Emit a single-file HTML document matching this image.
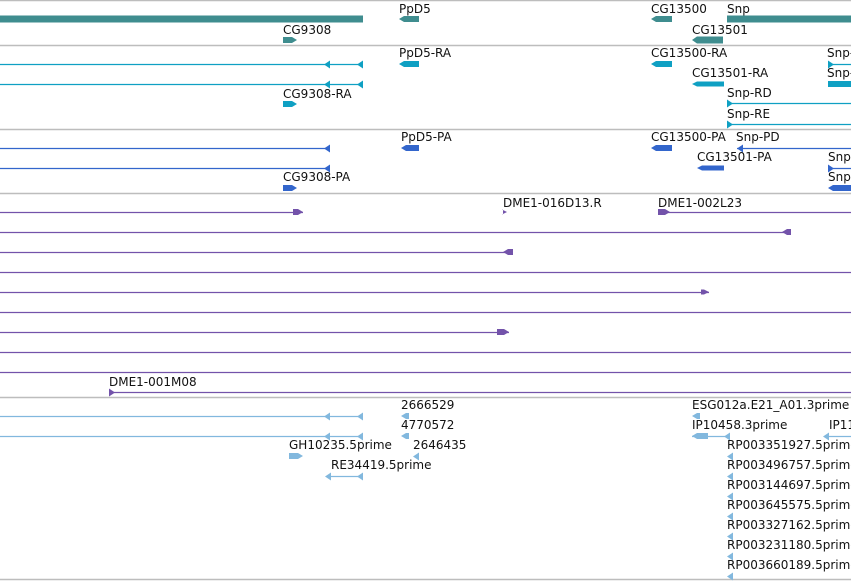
<!DOCTYPE html>
<html><head><meta charset="utf-8"><style>
html,body{margin:0;padding:0;background:#fff;width:851px;height:581px;overflow:hidden}
svg text{font-family:"DejaVu Sans","Liberation Sans",sans-serif;font-size:12px;fill:#111}
</style></head><body>
<svg id="c" width="851" height="581" xmlns="http://www.w3.org/2000/svg"></svg>
<script>
const separators=[0.5,45.5,129.5,193.5,397.5,579.5];
// [label, labelX, labelY]
const labels=[
["PpD5",399,13,"g"],["CG9308",283,34,"g"],["CG13500",651,13,"g"],["Snp",727,13,"g"],["CG13501",692,34,"g"],
["PpD5-RA",399,57,"t"],["CG13500-RA",651,57,"t"],["Snp-",827,57,"t"],["CG13501-RA",692,77,"t"],["Snp-",827,77,"t"],["CG9308-RA",283,98,"t"],["Snp-RD",727,97,"t"],["Snp-RE",727,118,"t"],
["PpD5-PA",401,141,"p"],["CG13500-PA",651,141,"p"],["Snp-PD",736,141,"p"],["CG13501-PA",697,161,"p"],["Snp",828,161,"p"],["CG9308-PA",283,181,"p"],["Snp",828,181,"p"],
["DME1-016D13.R",503,207,"c"],["DME1-002L23",658,207,"c"],["DME1-001M08",109,386,"c"],
["2666529",401,409,"e"],["ESG012a.E21_A01.3prime",692,409,"e"],["4770572",401,429,"e"],["IP10458.3prime",692,429,"e"],["IP11",829,429,"e"],
["GH10235.5prime",289,449,"e"],["2646435",413,449,"e"],["RP003351927.5prime",727,449,"e"],["RE34419.5prime",331,469,"e"],["RP003496757.5prime",727,469,"e"],
["RP003144697.5prime",727,489,"e"],["RP003645575.5prime",727,509,"e"],["RP003327162.5prime",727,529,"e"],["RP003231180.5prime",727,549,"e"],["RP003660189.5prime",727,569,"e"]];
// lines: [x1,x2,y,track]
const lines=[
[0,363,64,"t"],[0,363,84,"t"],[727,851,103,"t"],[727,851,124,"t"],[828,851,64,"t"],
[0,330,148,"p"],[0,330,168,"p"],[737,851,148,"p"],[828,851,168,"p"],
[0,303,212,"c"],[658,851,212,"c"],[0,791,232,"c"],[0,513,252,"c"],[0,851,272,"c"],[0,709,292,"c"],[0,851,312,"c"],[0,509,332,"c"],[0,851,352,"c"],[0,851,372,"c"],[109,851,392,"c"],
[0,363,416,"e"],[0,363,436,"e"],[331,363,476,"e"],[692,730,436,"e"],[829,851,436,"e"]];
// bars: [x1,x2,yCenter,height,dir(-1 left,1 right,0 none),track]
const bars=[
[0,363,19,7,0,"g"],[727,851,19,7,0,"g"],[399,419,19,6,-1,"g"],[283,297,40,6,1,"g"],[651,672,19,6,-1,"g"],[692,723,40,7,-1,"g"],
[399,419,64,6,-1,"t"],[651,672,64,6,-1,"t"],[692,724,84,5,-1,"t"],[283,297,104,6,1,"t"],[828,851,84,6,0,"t"],
[401,419,148,6,-1,"p"],[651,672,148,6,-1,"p"],[697,724,168,5,-1,"p"],[283,297,188,6,1,"p"],[828,851,188,6,-1,"p"],
[293,303,212,6,1,"c"],[658,670,212,6,1,"c"],[782,791,232,6,-1,"c"],[503,507,212,5,1,"c"],[503,513,252,6,-1,"c"],[701,709,292,5,1,"c"],[497,509,332,6,1,"c"],
[401,409,416,6,-1,"e"],[692,700,416,6,-1,"e"],[401,409,436,6,-1,"e"],[692,708,436,6,-1,"e"],[289,303,456,6,1,"e"]];
// small arrowheads: [x,y,dir,track]
const heads=[
[330,64,-1,"t"],[363,64,-1,"t"],[330,84,-1,"t"],[363,84,-1,"t"],[727,103,1,"t"],[727,124,1,"t"],[828,64,1,"t"],
[330,148,-1,"p"],[330,168,-1,"p"],[743,148,-1,"p"],[828,168,1,"p"],
[109,392,1,"c"],
[330,416,-1,"e"],[363,416,-1,"e"],[330,436,-1,"e"],[363,436,-1,"e"],[730,436,-1,"e"],[829,436,-1,"e"],[331,476,-1,"e"],[363,476,-1,"e"],[419,456,-1,"e"],
[733,456,-1,"e"],[733,476,-1,"e"],[733,496,-1,"e"],[733,516,-1,"e"],[733,536,-1,"e"],[733,556,-1,"e"],[733,576,-1,"e"]];
const col={g:"#3f8d8f",t:"#0fa0c3",p:"#3366cc",c:"#7353aa",e:"#82b8de"};
const svg=document.getElementById('c');const NS="http://www.w3.org/2000/svg";
function mk(t,a){const e=document.createElementNS(NS,t);for(const k in a)e.setAttribute(k,a[k]);svg.appendChild(e);return e;}
separators.forEach(y=>{const e=mk('line',{x1:0,x2:851,y1:y,y2:y,stroke:'#bdbdbd','stroke-width':1.5});

});
lines.forEach(l=>{const e=mk('line',{x1:l[0],x2:l[1],y1:l[2]+0.5,y2:l[2]+0.5,stroke:col[l[3]],'stroke-width':1.2});

});
bars.forEach(b=>{const [x1,x2,y,h,d,t]=b;let p;const top=y-h/2,bot=y+h/2;
if(d<0)p=`${x1},${y} ${x1+5},${top} ${x2},${top} ${x2},${bot} ${x1+5},${bot}`;
else if(d>0)p=`${x1},${top} ${x2-5},${top} ${x2},${y} ${x2-5},${bot} ${x1},${bot}`;
else p=`${x1},${top} ${x2},${top} ${x2},${bot} ${x1},${bot}`;
const e=mk('polygon',{points:p,fill:col[t]});

});
heads.forEach(h=>{const [x,y,d,t]=h;const yy=y+0.5;
const p=d<0?`${x-6},${yy} ${x},${yy-4} ${x},${yy+4}`:`${x},${yy-4} ${x+6},${yy} ${x},${yy+4}`;
const e=mk('polygon',{points:p,fill:col[t]});

});
labels.forEach(l=>{const e=mk('text',{x:l[1],y:l[2]});e.textContent=l[0];

});
</script>
</body></html>
